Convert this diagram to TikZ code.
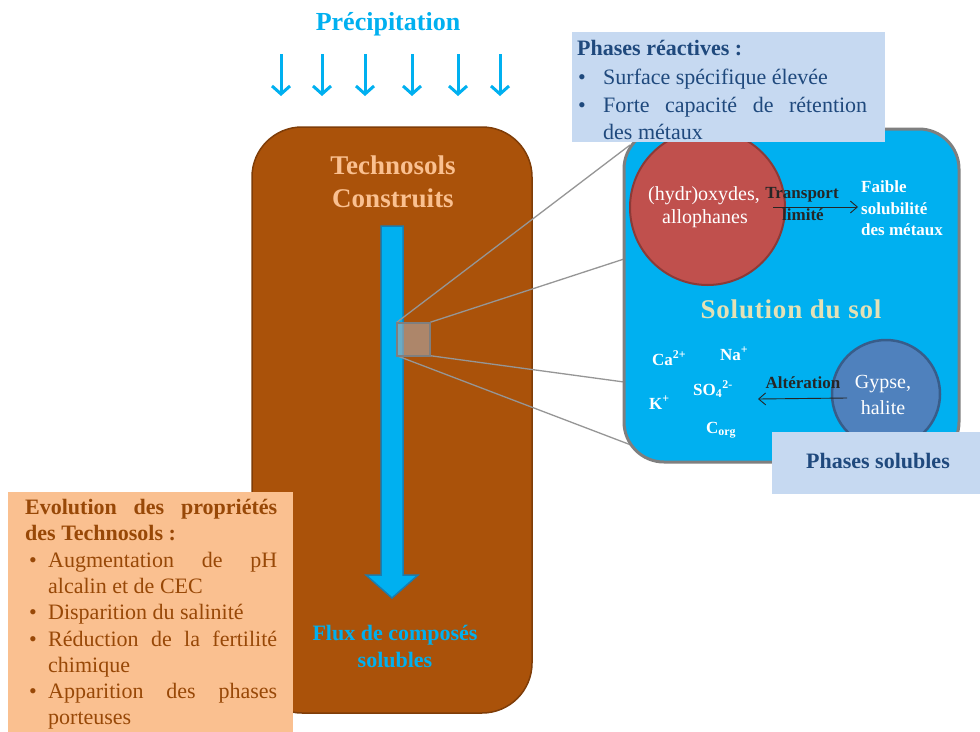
\documentclass[tikz,border=0pt]{standalone}
\usepackage{fontspec}
\setmainfont{Liberation Serif}
\usetikzlibrary{arrows.meta}
\definecolor{cyanp}{HTML}{00B0F0}
\definecolor{cyanedge}{HTML}{1A7DB0}
\definecolor{brownfill}{HTML}{AA520A}
\definecolor{brownedge}{HTML}{7F3D08}
\definecolor{peach}{HTML}{FAC090}
\definecolor{peachtext}{HTML}{984807}
\definecolor{paleblue}{HTML}{C6D9F1}
\definecolor{navy}{HTML}{1F497D}
\definecolor{redc}{HTML}{C0504D}
\definecolor{rededge}{HTML}{8C3A37}
\definecolor{bluec}{HTML}{4F81BD}
\definecolor{blueedge}{HTML}{385D8A}
\definecolor{greyline}{HTML}{969696}
\definecolor{boxgrey}{HTML}{7F7F7F}
\definecolor{solcol}{HTML}{E4E1B5}
\definecolor{darktxt}{HTML}{262626}
\newcommand{\fsz}[2]{\fontsize{#1}{#2}\selectfont}
\begin{document}
\begin{tikzpicture}[x=1pt,y=-1pt,
  txt/.style={inner sep=0pt, anchor=base},
  txtw/.style={inner sep=0pt, anchor=base west},
  rain/.style={cyanp, line width=3pt, -{Straight Barb[length=8pt,width=18pt]}},
  zoomline/.style={greyline, line width=1.3pt},
  thinarrow/.style={darktxt, line width=0.9pt, -{Straight Barb[length=7pt,width=12pt]}},
  evo/.style={txtw, font=\fsz{22}{26}, text=peachtext},
  rea/.style={txtw, font=\fsz{22}{26}, text=navy},
  ion/.style={txtw, font=\fsz{17}{20}\bfseries, text=white},
]
\useasboundingbox (0,0) rectangle (980,731);
\fill[white] (0,0) rectangle (980,731);

% Precipitation
\node[txt, font=\fsz{26}{30}\bfseries, text=cyanp] (prec) at (388,30.5) {Précipitation};
\foreach \i/\x in {1/281,2/322,3/365,4/412,5/458,6/500}{
  \coordinate (rt\i) at (\x,54);
  \coordinate (rb\i) at (\x,96);
  \draw[rain] (rt\i) -- (rb\i);
}

% Technosols box
\node[draw=brownedge, line width=1.5pt, fill=brownfill, rounded corners=50pt,
      minimum width=280pt, minimum height=586pt, inner sep=0pt] (tech) at (392,420) {};
\node[txt, font=\fsz{27}{33}\bfseries, text=peach] (tech1) at (393,174) {Technosols};
\node[txt, font=\fsz{27}{33}\bfseries, text=peach] (tech2) at (393,207) {Construits};

% flux arrow
\draw[fill=cyanp, draw=cyanedge, line width=1.5pt]
  (381,226) -- (403,226) -- (403,575) -- (418,575) -- (392,598) -- (366,575) -- (381,575) -- cycle;
\node[txt, font=\fsz{22}{26}\bfseries, text=cyanp] (flux1) at (395,640) {Flux de composés};
\node[txt, font=\fsz{22}{26}\bfseries, text=cyanp] (flux2) at (395,667) {solubles};

% zoom lines
\node[minimum size=33pt, inner sep=0pt] (sqpos) at (413.5,339) {};
\coordinate (z1) at (630,145);
\coordinate (z2) at (624,259);
\coordinate (z3) at (624,382);
\coordinate (z4) at (631,445);
\draw[zoomline] (sqpos.north west) -- (z1);
\draw[zoomline] (sqpos.north east) -- (z2);
\draw[zoomline] (sqpos.south east) -- (z3);
\draw[zoomline] (sqpos.south west) -- (z4);
\node[draw=boxgrey, line width=2pt, fill={rgb,255:red,175;green,170;blue,170}, fill opacity=0.6,
      minimum size=33pt, inner sep=0pt] (sq) at (413.5,339) {};

% soil solution box
\node[draw=boxgrey, line width=3pt, fill=cyanp, rounded corners=40pt,
      minimum width=335pt, minimum height=333pt, inner sep=0pt] (sol) at (791.5,295.5) {};

% red circle
\node[circle, draw=rededge, line width=2pt, fill=redc, minimum size=155pt, inner sep=0pt] (oxy) at (707.5,207.5) {};
\node[txt, font=\fsz{20}{23}, text=white] (oxy1) at (704,200) {(hydr)oxydes,};
\node[txt, font=\fsz{20}{23}, text=white] (oxy2) at (705,223) {allophanes};

\coordinate (ta) at (773,207);
\coordinate (tb) at (858,207);
\draw[thinarrow] (ta) -- (tb);
\node[txt, font=\fsz{17}{20}\bfseries, text=darktxt] (tr1) at (802,198) {Transport};
\node[txt, font=\fsz{17}{20}\bfseries, text=darktxt] (tr2) at (803,220) {limité};

\node[txtw, font=\fsz{17}{20}\bfseries, text=white] (fa1) at (861,192) {Faible};
\node[txtw, font=\fsz{17}{20}\bfseries, text=white] (fa2) at (861,214) {solubilité};
\node[txtw, font=\fsz{17}{20}\bfseries, text=white] (fa3) at (861,235.5) {des métaux};

\node[txt, font=\fsz{27}{30}\bfseries\addfontfeature{LetterSpace=3}, text=solcol] (soltxt) at (791,318) {Solution du sol};

% ions
\node[ion] (ca) at (652,365) {Ca\textsuperscript{2+}};
\node[ion] (na) at (720,360) {Na\textsuperscript{+}};
\node[ion] (so) at (693,395) {SO\textsubscript{4}\textsuperscript{2-}};
\node[ion] (k) at (649,409) {K\textsuperscript{+}};
\node[ion] (corg) at (706,433) {C\textsubscript{org}};

% gypse circle
\node[circle, draw=blueedge, line width=2.5pt, fill=bluec, minimum size=108pt, inner sep=0pt] (gyp) at (886,394) {};
\node[txt, font=\fsz{20}{23}, text=white] (gy1) at (883,388) {Gypse,};
\node[txt, font=\fsz{20}{23}, text=white] (gy2) at (883,414) {halite};

\coordinate (aa) at (847,398);
\coordinate (ab) at (758,399);
\draw[thinarrow] (aa) -- (ab);
\node[txt, font=\fsz{17}{20}\bfseries, text=darktxt] (alt) at (803,388) {Altération};

% phases reactives box
\node[fill=paleblue, minimum width=313pt, minimum height=110pt, inner sep=0pt] (reac) at (728.5,87) {};
\node[rea, font=\fsz{22}{26}\bfseries] (re1) at (577,55) {Phases réactives :};
\node[rea] (re2) at (578,84) {\makebox[25pt][l]{\textbullet}Surface spécifique élevée};
\node[rea] (re3) at (578,112) {\makebox[25pt][l]{\textbullet}\makebox[264pt][s]{Forte capacité de rétention}};
\node[rea] (re4) at (603,139) {des métaux};

% phases solubles box
\node[fill=paleblue, minimum width=208pt, minimum height=62pt, inner sep=0pt] (solu) at (876,463) {};
\node[txt, font=\fsz{22}{26}\bfseries, text=navy] (solut) at (878,468) {Phases solubles};

% evolution box
\node[fill=peach, minimum width=285pt, minimum height=240pt, inner sep=0pt] (evol) at (150.5,612) {};
\node[evo, font=\fsz{22}{26}\bfseries] (ev1) at (25,514) {\makebox[252pt][s]{Evolution des propriétés}};
\node[evo, font=\fsz{22}{26}\bfseries] (ev2) at (25,540.5) {des Technosols :};
\node[evo] (ev3) at (29,567) {\makebox[19pt][l]{\textbullet}\makebox[229pt][s]{Augmentation de pH}};
\node[evo] (ev4) at (48,593) {alcalin et de CEC};
\node[evo] (ev5) at (29,619.5) {\makebox[19pt][l]{\textbullet}Disparition du salinité};
\node[evo] (ev6) at (29,646) {\makebox[19pt][l]{\textbullet}\makebox[229pt][s]{Réduction de la fertilité}};
\node[evo] (ev7) at (48,672) {chimique};
\node[evo] (ev8) at (29,698) {\makebox[19pt][l]{\textbullet}\makebox[229pt][s]{Apparition des phases}};
\node[evo] (ev9) at (48,724) {porteuses};
\end{tikzpicture}
\end{document}
